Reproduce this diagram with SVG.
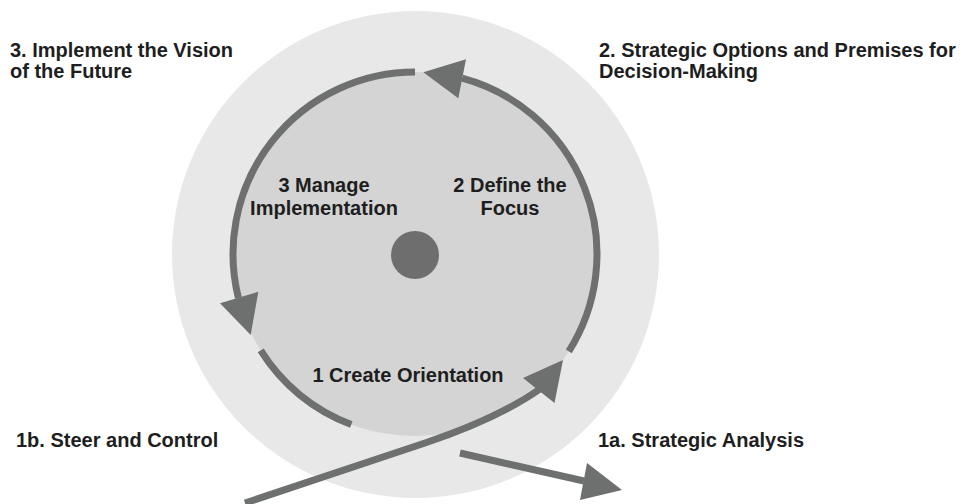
<svg xmlns="http://www.w3.org/2000/svg" width="961" height="504" viewBox="0 0 961 504">
<style>
.t{font-family:"Liberation Sans",Arial,sans-serif;font-weight:bold;font-size:20px;fill:#1e1e1e}
.c{text-anchor:middle}
.arc{fill:none;stroke:#6e706f;stroke-width:7}
.head{fill:#6e706f}
</style>
<rect width="961" height="504" fill="#ffffff"/>
<g id="outer-circle"><circle cx="415.5" cy="254.5" r="243.5" fill="#e8e8e8"/></g>
<g id="inner-circle"><circle cx="415" cy="254" r="182" fill="#d4d4d4"/></g>
<g id="center-dot"><circle cx="415" cy="255" r="24" fill="#6e6e6e"/></g>
<g id="connectors">
<path class="arc" d="M415,72 A182,182 0 0 0 238.4,298"/>
<polygon class="head" points="220,303.3 258.3,291.7 250.7,335"/>
<path class="arc" d="M462.1,78.2 A182,182 0 0 1 568.8,351.3"/>
<polygon class="head" points="423.3,72.3 466,59.3 458.3,98.3"/>
<path class="arc" d="M260.7,350.4 A182,182 0 0 0 351.3,424.5"/>
<path class="arc" d="M245,503 L425,443 C470,428 510,410 540,389"/>
<polygon class="head" points="523,378 563,360 554.5,403"/>
<path class="arc" d="M460,453 L584,481"/>
<polygon class="head" points="587,463 622,490 580,500"/>
</g>
<g id="label-3"><text class="t" x="10" y="57">3. Implement the Vision</text><text class="t" x="10" y="78">of the Future</text></g>
<g id="label-2"><text class="t" x="599" y="57">2. Strategic Options and Premises for</text><text class="t" x="599" y="78">Decision-Making</text></g>
<g id="label-1b"><text class="t" x="16" y="447">1b. Steer and Control</text></g>
<g id="label-1a"><text class="t" x="598" y="447">1a. Strategic Analysis</text></g>
<g id="step-3"><text class="t c" x="324" y="192">3 Manage</text><text class="t c" x="324" y="215">Implementation</text></g>
<g id="step-2"><text class="t c" x="510" y="192">2 Define the</text><text class="t c" x="510" y="215">Focus</text></g>
<g id="step-1"><text class="t c" x="408" y="382">1 Create Orientation</text></g>
</svg>
